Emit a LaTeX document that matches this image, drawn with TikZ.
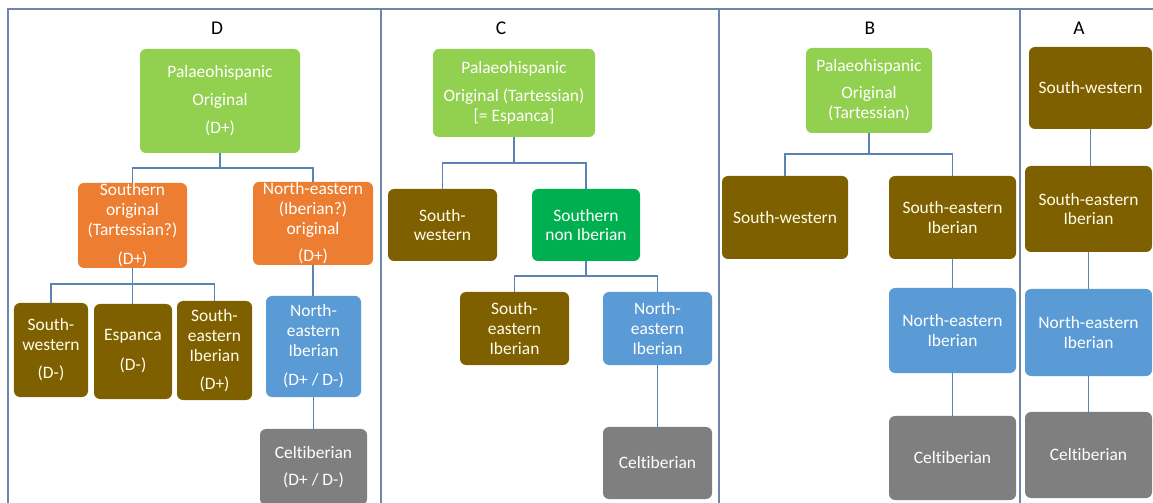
\documentclass[tikz,border=0pt]{standalone}
\usepackage{fontspec}
\setmainfont{Carlito}[Ligatures={NoCommon}]
\definecolor{lgreen}{HTML}{92D050}
\definecolor{dgreen}{HTML}{00B050}
\definecolor{orng}{HTML}{ED7D31}
\definecolor{brwn}{HTML}{7F6000}
\definecolor{lblue}{HTML}{5B9BD5}
\definecolor{gry}{HTML}{7F7F7F}
\definecolor{connC}{HTML}{5A82B2}
\definecolor{frameC}{HTML}{6E87A8}
\newcommand{\celt}{Cel\kern0pt tiberian}
\tikzset{
  bx/.style={rectangle, rounded corners=6bp, inner sep=0pt, align=center,
    text=white, font=\fontsize{17.5}{20}\selectfont},
  wh/.style 2 args={minimum width=#1bp, minimum height=#2bp},
  gbox/.style={bx, fill=lgreen},
  dgbox/.style={bx, fill=dgreen},
  obox/.style={bx, fill=orng},
  brbox/.style={bx, fill=brwn, text=white!92!yellow},
  blbox/.style={bx, fill=lblue},
  grbox/.style={bx, fill=gry},
  ttl/.style={font=\fontsize{19.5}{22}\selectfont, text=black, inner sep=0pt},
  conn/.style={draw=connC, line width=1.4bp},
  frm/.style={draw=frameC, line width=1.3bp}
}
\begin{document}
\begin{tikzpicture}[x=1bp, y=-1bp]
\fill[white] (0,0) rectangle (1153,503);
\useasboundingbox (0,0) rectangle (1153,503);
% frame
\draw[frm] (8,503) -- (8,9) -- (1153,9);
\draw[frm] (381,9) -- (381,503);
\draw[frm] (719,9) -- (719,503);
\draw[frm] (1020,9) -- (1020,503);

% ---------- Panel D ----------
\node[ttl] (dT) at (217,28) {D};
\node[gbox, wh={160}{104}] (dRoot) at (220,101) {Palaeohispanic\\[8bp]Original\\[8bp](D+)};
\node[obox, wh={109}{85}] (dS) at (132.5,225.5) {Southern\\original\\(Tartessian?)\\[9bp](D+)};
\node[obox, wh={120}{83}] (dN) at (313,223.5) {North-eastern\\(Iberian?)\\original\\[7bp](D+)};
\node[brbox, wh={74}{94}] (dSW) at (51,350) {South-\\western\\[8bp](D-)};
\node[brbox, wh={78}{95}] (dE) at (133,351.5) {Espanca\\[10bp](D-)};
\node[brbox, wh={75}{99}] (dSE) at (214.5,350.5) {South-\\eastern\\Iberian\\[8bp](D+)};
\node[blbox, wh={95}{101}] (dNE) at (313.5,346.5) {North-\\eastern\\Iberian\\[9bp](D+ / D-)};
\node[grbox, wh={107}{76}] (dC) at (313.5,467) {\celt\\[7bp](D+ / D-)};
\draw[conn] (dRoot.south) -- ++(0,15) -| (dS.north);
\draw[conn] (dRoot.south) -- ++(0,15) -| (dN.north);
\draw[conn] (dS.south) -- ++(0,16) -| (dSW.north);
\draw[conn] (dS.south) -- (dS.south |- dE.north);
\draw[conn] (dS.south) -- ++(0,16) -| (dSE.north);
\draw[conn] (dN.south) -- (dN.south |- dNE.north);
\draw[conn] (dNE.south) -- (dNE.south |- dC.north);

% ---------- Panel C ----------
\node[ttl] (cT) at (501,28) {C};
\node[gbox, wh={162}{88}] (cRoot) at (514,93) {Palaeohispanic\\[8bp]Original (Tartessian)\\{}[= Espanca]};
\node[brbox, wh={109}{72}] (cSW) at (442.5,225) {South-\\western};
\node[dgbox, wh={108}{72}] (cSN) at (586,225) {Southern\\non Iberian};
\node[brbox, wh={109}{73}] (cSE) at (514.5,328.5) {South-\\eastern\\Iberian};
\node[blbox, wh={109}{73}] (cNE) at (657.5,328.5) {North-\\eastern\\Iberian};
\node[grbox, wh={109}{72}] (cC) at (657.5,463) {\celt};
\draw[conn] (cRoot.south) -- ++(0,26) -| (cSW.north);
\draw[conn] (cRoot.south) -- ++(0,26) -| (cSN.north);
\draw[conn] (cSN.south) -- ++(0,15) -| (cSE.north);
\draw[conn] (cSN.south) -- ++(0,15) -| (cNE.north);
\draw[conn] (cNE.south) -- (cNE.south |- cC.north);

% ---------- Panel B ----------
\node[ttl] (bT) at (870,28) {B};
\node[gbox, wh={126}{85}] (bRoot) at (869,90.5) {Palaeohispanic\\[7bp]Original\\(Tartessian)};
\node[brbox, wh={126}{83}] (bSW) at (785,217.5) {South-western};
\node[brbox, wh={127}{83}] (bSE) at (952.5,217.5) {South-eastern\\Iberian};
\node[blbox, wh={127}{85}] (bNE) at (952.5,330.5) {North-eastern\\Iberian};
\node[grbox, wh={127}{84}] (bC) at (952.5,458) {\celt};
\draw[conn] (bRoot.south) -- ++(0,21) -| (bSW.north);
\draw[conn] (bRoot.south) -- ++(0,21) -| (bSE.north);
\draw[conn] (bSE.south) -- (bSE.south |- bNE.north);
\draw[conn] (bNE.south) -- (bNE.south |- bC.north);

% ---------- Panel A ----------
\node[ttl] (aT) at (1079,28) {A};
\node[brbox, wh={123}{82}] (aSW) at (1090.5,88) {South-western};
\node[brbox, wh={127}{86}] (aSE) at (1088.5,209) {South-eastern\\Iberian};
\node[blbox, wh={127}{87}] (aNE) at (1088.5,332.5) {North-eastern\\Iberian};
\node[grbox, wh={127}{86}] (aC) at (1088.5,455) {\celt};
\draw[conn] (aSW.south) -- (aSW.south |- aSE.north);
\draw[conn] (aSE.south) -- (aSE.south |- aNE.north);
\draw[conn] (aNE.south) -- (aNE.south |- aC.north);
\end{tikzpicture}
\end{document}
